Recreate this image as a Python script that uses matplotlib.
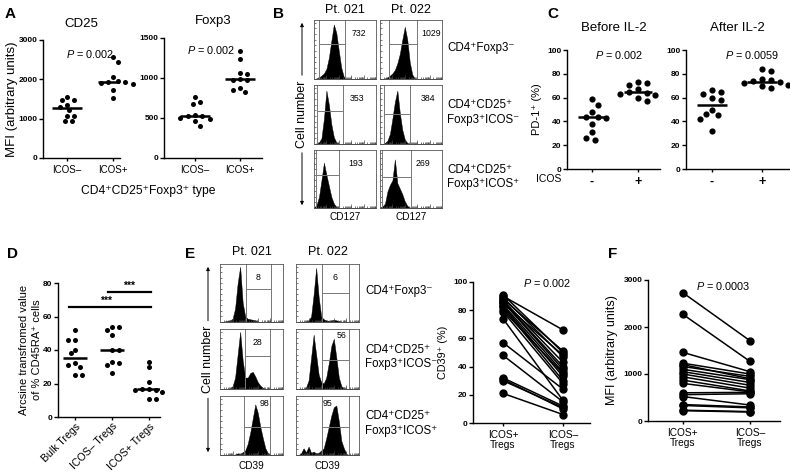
import numpy as np
import matplotlib
matplotlib.use("Agg")
import matplotlib.pyplot as plt

plt.rcParams['font.family'] = ['Liberation Sans', 'DejaVu Sans']
plt.rcParams['mathtext.fontset'] = 'custom'
plt.rcParams['mathtext.it'] = 'Liberation Sans:italic'
plt.rcParams['mathtext.rm'] = 'Liberation Sans'

# ---- data ----
# A: MFI of CD25 / Foxp3 in ICOS- vs ICOS+ Tregs
a_groups = ["ICOS–", "ICOS+"]
cd25_neg = [1560, 1480, 1470, 1360, 1290, 1230, 1080, 1060, 950, 930]
cd25_pos = [2560, 2450, 2050, 1960, 1940, 1920, 1900, 1880, 1720, 1530]
foxp3_neg = [760, 700, 670, 540, 530, 520, 500, 490, 460, 400]
foxp3_pos = [1340, 1240, 1060, 1050, 990, 980, 970, 880, 850, 820]

# C: % PD-1+ before / after IL-2
c_groups = ["-", "+"]
pd1_before_neg = [59, 54, 48, 44, 44, 43, 38, 31, 26, 24]
pd1_before_pos = [73, 72, 71, 67, 65, 64, 63, 62, 60, 57]
pd1_after_neg = [66, 65, 63, 60, 58, 50, 46, 45, 42, 32]
pd1_after_pos = [84, 82, 76, 75, 74, 73, 72, 71, 70, 68]

# D: arcsine transformed % CD45RA+
d_groups = ["Bulk Tregs", "ICOS– Tregs", "ICOS+ Tregs"]
d_bulk = [52, 46, 46, 40, 38, 32, 31, 30, 25, 25]
d_icos_neg = [54, 54, 52, 49, 40, 40, 33, 32, 31, 26]
d_icos_pos = [33, 30, 21, 17, 17, 16, 16, 15, 11, 11]

# E / F: paired ICOS+ vs ICOS- Tregs
pair_groups = ["ICOS+\nTregs", "ICOS–\nTregs"]
cd39_icos_pos = [91, 90, 89, 88, 87, 86, 86, 85, 84, 83, 82, 80, 79, 74, 57, 48, 32, 31, 30, 21]
cd39_icos_neg = [50, 66, 47, 51, 43, 40, 38, 48, 36, 33, 30, 35, 28, 16, 24, 15, 12, 10, 11, 6]
mfi_icos_pos = [2730, 2270, 1460, 1230, 1200, 1160, 1100, 1050, 1000, 940, 870, 800, 600, 560, 520, 350, 330, 230, 220]
mfi_icos_neg = [1710, 1270, 1050, 1000, 900, 950, 880, 820, 760, 700, 640, 620, 610, 580, 340, 300, 280, 200, 190]

# B / E flow histograms: relative cell counts on a 26-point channel grid (0..1)
pt_labels = ["Pt. 021", "Pt. 022"]
b_rows = ["CD4⁺Foxp3⁻", "CD4⁺CD25⁺\nFoxp3⁺ICOS⁻", "CD4⁺CD25⁺\nFoxp3⁺ICOS⁺"]
b_values = [["732", "1029"], ["353", "384"], ["193", "269"]]
e_values = [["8", "6"], ["28", "56"], ["98", "95"]]
b_hist = [
    [[0, .01, .03, .06, .1, .18, .38, .68, .97, .82, .5, .2, .04, 0, 0, 0, 0, 0, 0, 0, 0, 0, 0, 0, 0, 0],
     [0, 0, .01, .03, .06, .1, .16, .28, .45, .7, .93, .7, .3, .08, .01, 0, 0, 0, 0, 0, 0, 0, 0, 0, 0, 0]],
    [[0, .01, .03, .1, .45, .95, .7, .35, .12, .03, 0, 0, 0, 0, 0, 0, 0, 0, 0, 0, 0, 0, 0, 0, 0, 0],
     [0, 0, .02, .06, .18, .45, .75, .95, .55, .25, .08, .02, 0, 0, 0, 0, 0, 0, 0, 0, 0, 0, 0, 0, 0, 0]],
    [[.01, .05, .2, .5, .82, .6, .4, .2, .08, .02, 0, 0, 0, 0, 0, 0, 0, 0, 0, 0, 0, 0, 0, 0, 0, 0],
     [.01, .03, .08, .3, .42, .5, .88, .45, .35, .25, .12, .04, .01, 0, 0, 0, 0, 0, 0, 0, 0, 0, 0, 0, 0, 0]],
]
e_hist = [
    [[0, .005, .01, .02, .03, .06, .25, .7, 1.0, .35, .1, .06, .05, .04, .03, .01, 0, 0, 0, 0, 0, 0, 0, 0, 0, 0],
     [0, 0, 0, 0, .01, .03, .1, .5, .98, .45, .1, .05, .03, .02, .03, .04, .03, .02, 0, 0, 0, 0, 0, 0, 0, 0]],
    [[0, 0, 0, 0, .01, .05, .2, .6, 1.0, .5, .2, .2, .28, .3, .22, .12, .06, .02, 0, 0, 0, 0, 0, 0, 0, 0],
     [0, 0, 0, 0, .03, .15, .55, .95, .6, .25, .12, .1, .2, .45, .75, .88, .55, .2, .05, .01, 0, 0, 0, 0, 0, 0]],
    [[0, 0, 0, 0, 0, 0, .01, .03, .02, .05, .08, .2, .4, .65, .9, .75, .5, .3, .12, .03, 0, 0, 0, 0, 0, 0],
     [0, 0, .03, .12, .05, .15, .04, .06, .03, .04, .08, .12, .3, .5, .7, .85, .88, .6, .25, .12, .02, 0, 0, 0, 0, 0]],
]

W, H = 790, 476
fig = plt.figure(figsize=(W / 100, H / 100), dpi=100)


def px_axes(x0, y0, x1, y1):
    ax = fig.add_axes([x0 / W, 1 - y1 / H, (x1 - x0) / W, (y1 - y0) / H])
    ax.patch.set_visible(False)
    return ax


def ftext(x, y, s, **kw):
    kw.setdefault("ha", "center")
    kw.setdefault("va", "center")
    fig.text(x / W, 1 - y / H, s, **kw)


def prism(ax, xlim, ylim, yticks):
    ax.set_xlim(*xlim)
    ax.set_ylim(*ylim)
    for s in ["top", "right"]:
        ax.spines[s].set_visible(False)
    for s in ["left", "bottom"]:
        ax.spines[s].set_linewidth(1.0)
    ax.set_yticks(yticks, [str(t) for t in yticks], fontsize=6, fontweight="bold")
    ax.tick_params(axis="y", length=3, width=1, pad=1)
    ax.tick_params(axis="x", length=2, width=1, pad=3)


def swarm(ax, xc, vals, d=5.5, sx=1.15, sy=1.0):
    # simple beeswarm so dots with close values sit side by side
    tr = ax.transData
    vals = np.asarray(vals, float)
    pts = tr.transform(np.column_stack([np.full(len(vals), xc), vals]))
    x0 = pts[0, 0]
    placed = []
    xs = np.empty(len(vals))
    for n, i in enumerate(np.argsort(-vals)):
        y = pts[i, 1]
        sgn = 1 if n % 2 else -1
        for k in range(60):
            off = ((k + 1) // 2) * d * 0.45 * (sgn if k % 2 else -sgn)
            if all(((px - x0 - off) / (sx * d)) ** 2 + ((py - y) / (sy * d)) ** 2 >= 1 for px, py in placed):
                break
        placed.append((x0 + off, y))
        xs[i] = x0 + off
    return tr.inverted().transform(np.column_stack([xs, pts[:, 1]]))[:, 0]


def dot_group(ax, xc, vals, half, d=5.5, ms=13):
    xs = swarm(ax, xc, vals, d=d)
    ax.scatter(xs, vals, s=ms, color="black", lw=0, zorder=3, clip_on=False)
    m = np.median(vals)
    ax.plot([xc - half, xc + half], [m, m], color="black", lw=1.8, zorder=4, solid_capstyle="butt")


flow_x = np.linspace(0, 1, 26)
decade_minor = [d * 0.2 + 0.2 * np.log10(k) for d in range(5) for k in range(2, 10)]


def flow(ax, hist, gl, gr, gh, label, lx, ly):
    ax.fill_between(flow_x, 0, hist, color="black", lw=0.3)
    ax.set_xlim(0, 1)
    ax.set_ylim(0, 1.05)
    for g in (gl, gr):
        ax.axvline(g, color="#777777", lw=0.7)
    ax.plot([gl, gr], [gh, gh], color="#777777", lw=0.7)
    ax.text(lx, ly, label, transform=ax.transAxes, fontsize=6.3, ha="center", va="center")
    for s in ax.spines.values():
        s.set_linewidth(0.6)
        s.set_color("#555555")
    ax.set_xticks([0.2, 0.4, 0.6, 0.8], [])
    ax.set_xticks(decade_minor, [], minor=True)
    ax.set_yticks(np.linspace(0, 1, 11), [])
    ax.tick_params(which="both", direction="in", length=1.5, width=0.5, colors="#444444")
    ax.tick_params(axis="x", which="major", length=3)


def cell_number(x, y0, y1, tlen=72):
    mid = (y0 + y1) / 2
    ftext(x, mid, "Cell number", rotation=90, fontsize=9)
    for ya, yb in ((mid - tlen / 2, y0), (mid + tlen / 2, y1)):
        fig.add_artist(matplotlib.patches.FancyArrowPatch(
            (x / W, 1 - ya / H), (x / W, 1 - yb / H), transform=fig.transFigure,
            arrowstyle="-|>", mutation_scale=5, lw=0.7, color="black"))


# ---------- panel letters ----------
for lt, x, y in [("A", 10, 14), ("B", 278, 14), ("C", 553, 14),
                 ("D", 12, 254), ("E", 190, 254), ("F", 613, 254)]:
    ftext(x, y, lt, fontsize=11, fontweight="bold")

# ---------- A ----------
ax = px_axes(43, 40, 120, 158)
prism(ax, (-0.52, 1.15), (0, 3000), [0, 1000, 2000, 3000])
dot_group(ax, 0, cd25_neg, 0.33)
dot_group(ax, 1, cd25_pos, 0.33)
ax.set_xticks([0, 1], a_groups, fontsize=7)
ax.set_title("CD25", fontsize=9.5, pad=9)
ax.text(0.5, 2650, "$P$ = 0.002", fontsize=7.8, ha="center", va="center")

ax = px_axes(164, 38, 262, 158)
prism(ax, (-0.69, 1.49), (0, 1500), [0, 500, 1000, 1500])
dot_group(ax, 0, foxp3_neg, 0.33)
dot_group(ax, 1, foxp3_pos, 0.33)
ax.set_xticks([0, 1], a_groups, fontsize=7)
ax.set_title("Foxp3", fontsize=9.5, pad=10)
ax.text(0.35, 1350, "$P$ = 0.002", fontsize=7.8, ha="center", va="center")

ftext(12, 99, "MFI (arbitrary units)", rotation=90, fontsize=9.5)
ftext(148, 191, "CD4⁺CD25⁺Foxp3⁺ type", fontsize=8.7)

# ---------- B ----------
b_cols = [(314, 376), (380, 442)]
b_rowy = [(20, 79), (85, 144), (150, 208)]
b_gates = [[(0.08, 0.5, 0.63, 0.73), (0.15, 0.6, 0.63, 0.82)],
           [(0.05, 0.46, 0.59, 0.7), (0.07, 0.49, 0.54, 0.78)],
           [(0.03, 0.4, 0.6, 0.67), (0.03, 0.5, 0.57, 0.7)]]
for r, (y0, y1) in enumerate(b_rowy):
    for c, (x0, x1) in enumerate(b_cols):
        gl, gr, gh, lx = b_gates[r][c]
        flow(px_axes(x0, y0, x1, y1), b_hist[r][c], gl, gr, gh, b_values[r][c], lx, 0.77)
    ftext(447, (y0 + y1) / 2 - 2, b_rows[r], fontsize=8.3, ha="left", linespacing=1.3)
for c, (x0, x1) in enumerate(b_cols):
    ftext((x0 + x1) / 2, 10, pt_labels[c], fontsize=9)
    ftext((x0 + x1) / 2, 217, "CD127", fontsize=7.2)
cell_number(302, 20, 208)

# ---------- C ----------
ax = px_axes(567, 50, 660, 169)
prism(ax, (-0.54, 1.48), (0, 100), [0, 20, 40, 60, 80, 100])
dot_group(ax, 0, pd1_before_neg, 0.3, d=6.5, ms=20)
dot_group(ax, 1, pd1_before_pos, 0.3, d=6.5, ms=20)
ax.set_xticks([0, 1], c_groups, fontsize=9, fontweight="bold")
ax.set_title("Before IL-2", fontsize=9.5, pad=14)
ax.text(0.6, 96, "$P$ = 0.002", fontsize=7.8, ha="center", va="center")
ax.set_ylabel("PD-1⁺ (%)", fontsize=8, labelpad=4)
ftext(549, 179, "ICOS", fontsize=7.5)

ax = px_axes(686, 50, 789, 169)
prism(ax, (-0.52, 1.54), (0, 100), [0, 20, 40, 60, 80, 100])
dot_group(ax, 0, pd1_after_neg, 0.3, d=6.5, ms=20)
dot_group(ax, 1, pd1_after_pos, 0.3, d=6.5, ms=20)
ax.set_xticks([0, 1], c_groups, fontsize=9, fontweight="bold")
ax.set_title("After IL-2", fontsize=9.5, pad=14)
ax.text(0.8, 96, "$P$ = 0.0059", fontsize=7.8, ha="center", va="center")

# ---------- D ----------
ax = px_axes(58, 283, 160, 417)
prism(ax, (-0.46, 2.3), (0, 80), [0, 20, 40, 60, 80])
dot_group(ax, 0, d_bulk, 0.33, d=5, ms=13)
dot_group(ax, 1, d_icos_neg, 0.33, d=5, ms=13)
dot_group(ax, 2, d_icos_pos, 0.33, d=5, ms=13)
ax.set_xticks([0, 1, 2], d_groups, fontsize=7.6, rotation=45, ha="right", va="top",
              rotation_mode="anchor")
ax.tick_params(axis="x", pad=1)
ax.plot([0.9, 2.05], [74.6, 74.6], color="black", lw=1.6)
ax.plot([-0.16, 2.05], [65.7, 65.7], color="black", lw=1.6)
ax.text(1.45, 75.5, "***", fontsize=7.5, fontweight="bold", ha="center", va="bottom")
ax.text(0.85, 66.6, "***", fontsize=7.5, fontweight="bold", ha="center", va="bottom")
ftext(24, 350, "Arcsine transfromed value", rotation=90, fontsize=8)
ftext(37, 350, "of % CD45RA⁺ cells", rotation=90, fontsize=8)

# ---------- E histograms ----------
e_cols = [(220, 283), (296, 359)]
e_rowy = [(264, 322), (329, 389), (396, 455)]
e_gates = [[(0.41, 0.81, 0.6, 0.6, 0.77), (0.42, 0.84, 0.53, 0.62, 0.77)],
           [(0.4, 0.8, 0.58, 0.6, 0.77), (0.42, 0.84, 0.5, 0.72, 0.9)],
           [(0.38, 0.8, 0.5, 0.7, 0.88), (0.42, 0.84, 0.5, 0.5, 0.88)]]
for r, (y0, y1) in enumerate(e_rowy):
    for c, (x0, x1) in enumerate(e_cols):
        gl, gr, gh, lx, ly = e_gates[r][c]
        flow(px_axes(x0, y0, x1, y1), e_hist[r][c], gl, gr, gh, e_values[r][c], lx, ly)
    ftext(365, (y0 + y1) / 2 - 2, b_rows[r], fontsize=8.3, ha="left", linespacing=1.3)
for c, (x0, x1) in enumerate(e_cols):
    ftext((x0 + x1) / 2, 252, pt_labels[c], fontsize=9)
    ftext((x0 + x1) / 2, 466, "CD39", fontsize=7.2)
cell_number(208, 264, 455)

# ---------- E paired ----------
ax = px_axes(473, 282, 590, 423)
prism(ax, (-0.5, 1.45), (0, 100), [0, 20, 40, 60, 80, 100])
for a, b in zip(cd39_icos_pos, cd39_icos_neg):
    ax.plot([0, 1], [a, b], color="black", lw=1.1, marker="o", ms=5, clip_on=False)
ax.set_xticks([0, 1], pair_groups, fontsize=7.3, linespacing=1.0)
ax.text(0.73, 99, "$P$ = 0.002", fontsize=7.8, ha="center", va="center")
ax.set_ylabel("CD39⁺ (%)", fontsize=7.8, labelpad=4)

# ---------- F ----------
ax = px_axes(648, 280, 780, 421)
prism(ax, (-0.52, 1.45), (0, 3000), [0, 1000, 2000, 3000])
for a, b in zip(mfi_icos_pos, mfi_icos_neg):
    ax.plot([0, 1], [a, b], color="black", lw=1.1, marker="o", ms=5, clip_on=False)
ax.set_xticks([0, 1], pair_groups, fontsize=7.3, linespacing=1.0)
ax.text(0.6, 2880, "$P$ = 0.0003", fontsize=7.8, ha="center", va="center")
ax.set_ylabel("MFI (arbitrary units)", fontsize=9, labelpad=4)

fig.savefig("out.png", dpi=100)
